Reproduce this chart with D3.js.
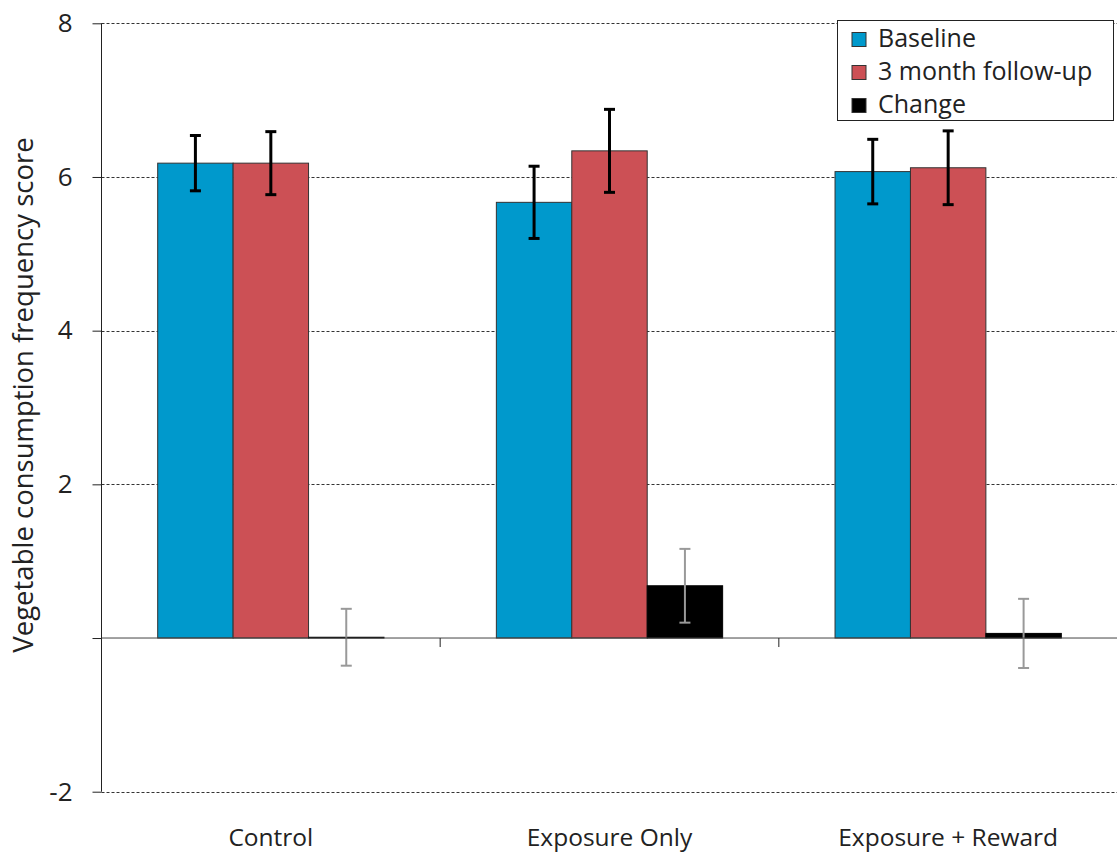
<!DOCTYPE html>
<html>
<head>
<meta charset="utf-8">
<script src="https://cdn.jsdelivr.net/npm/d3@7"></script>
<style>
body { margin:0; background:#fff; }
text { font-family: "Open Sans", sans-serif; fill:#222; }
</style>
</head>
<body>
<div id="chart"></div>
<script>
var categories = ["Control", "Exposure Only", "Exposure + Reward"];
var seriesNames = ["Baseline", "3 month follow-up", "Change"];
var baseline = [6.18, 5.67, 6.07];
var baselineErr = [0.36, 0.47, 0.42];
var followup = [6.18, 6.34, 6.12];
var followupErr = [0.41, 0.54, 0.48];
var change = [0.01, 0.68, 0.06];
var changeErr = [0.37, 0.48, 0.45];
var yTicks = [-2, 2, 4, 6, 8];

var colors = {"Baseline":"#0099cc", "3 month follow-up":"#cc5055", "Change":"#000000"};
var errColors = {"Baseline":"#000", "3 month follow-up":"#000", "Change":"#999"};

var W = 1117, H = 857;
var svg = d3.select("#chart").append("svg").attr("width", W).attr("height", H);

var y = d3.scaleLinear().domain([-2, 8]).range([791.7, 23.3]);
var x0 = d3.scaleBand().domain(categories).range([101.5, 1117.5]);
var x1 = d3.scaleBand().domain(seriesNames).range([0, x0.bandwidth()]).paddingOuter(0.745);

// rows of data per category
var rows = categories.map(function(c, i){
    return [
        {cat:c, s:"Baseline", v:baseline[i], e:baselineErr[i]},
        {cat:c, s:"3 month follow-up", v:followup[i], e:followupErr[i]},
        {cat:c, s:"Change", v:change[i], e:changeErr[i]}
    ];
});

// grid lines (dashed)
svg.append("g").selectAll("line").data(yTicks).enter().append("line")
    .attr("x1", 101.5).attr("x2", W)
    .attr("y1", function(d){ return Math.round(y(d))+0.5; }).attr("y2", function(d){ return Math.round(y(d))+0.5; })
    .attr("stroke", "#333").attr("stroke-dasharray", "3,2");

// y axis
var yAxis = d3.axisLeft(y).tickValues([-2, 0, 2, 4, 6, 8]).tickSize(9).tickPadding(20)
    .tickFormat(function(d){ return d == 0 ? "" : d; });
var ga = svg.append("g").attr("transform", "translate(101.5,0)").call(yAxis);
ga.select(".domain").attr("stroke", "#222").attr("d", "M0," + y(8) + "V" + y(-2));
ga.selectAll(".tick line").attr("stroke", "#222");
ga.selectAll("text").attr("font-size", 26).attr("fill", "#222").attr("font-family", "'Open Sans', sans-serif");

// bars
var groups = svg.append("g").selectAll("g").data(rows).enter().append("g")
    .attr("transform", function(d){ return "translate(" + x0(d[0].cat) + ",0)"; });

groups.selectAll("rect").data(function(d){ return d; }).enter().append("rect")
    .attr("x", function(d){ return x1(d.s); })
    .attr("width", x1.bandwidth())
    .attr("y", function(d){ return y(Math.max(0, d.v)); })
    .attr("height", function(d){ return Math.abs(y(d.v) - y(0)); })
    .attr("fill", function(d){ return colors[d.s]; })
    .attr("stroke", function(d){ return d.s == "Change" ? "#000" : "#333"; })
    .attr("stroke-width", 1);

// category axis on zero line
var xAxis = d3.axisBottom(x0).tickSize(0).tickFormat("");
var gx = svg.append("g").attr("transform", "translate(0," + y(0) + ")").call(xAxis);
gx.select(".domain").attr("stroke", "#444").attr("d", "M101.5,0H" + W);
// tick marks between categories
gx.selectAll(".sep").data(categories.slice(1)).enter().append("line").attr("class", "sep")
    .attr("x1", function(d){ return x0(d); }).attr("x2", function(d){ return x0(d); })
    .attr("y1", 0).attr("y2", 9).attr("stroke", "#222");

// error bars
var cap = 5.5;
groups.selectAll("g.err").data(function(d){ return d; }).enter().append("g").attr("class", "err")
    .each(function(d){
        var g = d3.select(this);
        var cx = x1(d.s) + x1.bandwidth()/2;
        var col = errColors[d.s], sw = d.s == "Change" ? 2 : 3;
        g.append("line").attr("x1", cx).attr("x2", cx).attr("y1", y(d.v + d.e)).attr("y2", y(d.v - d.e))
            .attr("stroke", col).attr("stroke-width", sw);
        [d.v + d.e, d.v - d.e].forEach(function(v){
            g.append("line").attr("x1", cx - cap).attr("x2", cx + cap).attr("y1", y(v)).attr("y2", y(v))
                .attr("stroke", col).attr("stroke-width", sw);
        });
    });

// category labels
svg.append("g").selectAll("text").data(categories).enter().append("text")
    .attr("x", function(d){ return x0(d) + x0.bandwidth()/2; })
    .attr("y", 846).attr("text-anchor", "middle").attr("font-size", 24.5)
    .text(function(d){ return d; });

// y title
svg.append("text").attr("transform", "translate(33,395) rotate(-90)")
    .attr("text-anchor", "middle").attr("font-size", 27.5)
    .text("Vegetable consumption frequency score");

// legend
var lg = svg.append("g");
lg.append("rect").attr("x", 837.5).attr("y", 20.5).attr("width", 276).attr("height", 100)
    .attr("fill", "#fff").attr("stroke", "#222");
var items = lg.selectAll("g").data(seriesNames).enter().append("g")
    .attr("transform", function(d, i){ return "translate(852," + (46.5 + i*33) + ")"; });
items.append("rect").attr("x", 0).attr("y", -14).attr("width", 14).attr("height", 14)
    .attr("fill", function(d){ return colors[d]; }).attr("stroke", "#333");
items.append("text").attr("x", 26).attr("y", 0).attr("font-size", 25).text(function(d){ return d; });
</script>
</body>
</html>
